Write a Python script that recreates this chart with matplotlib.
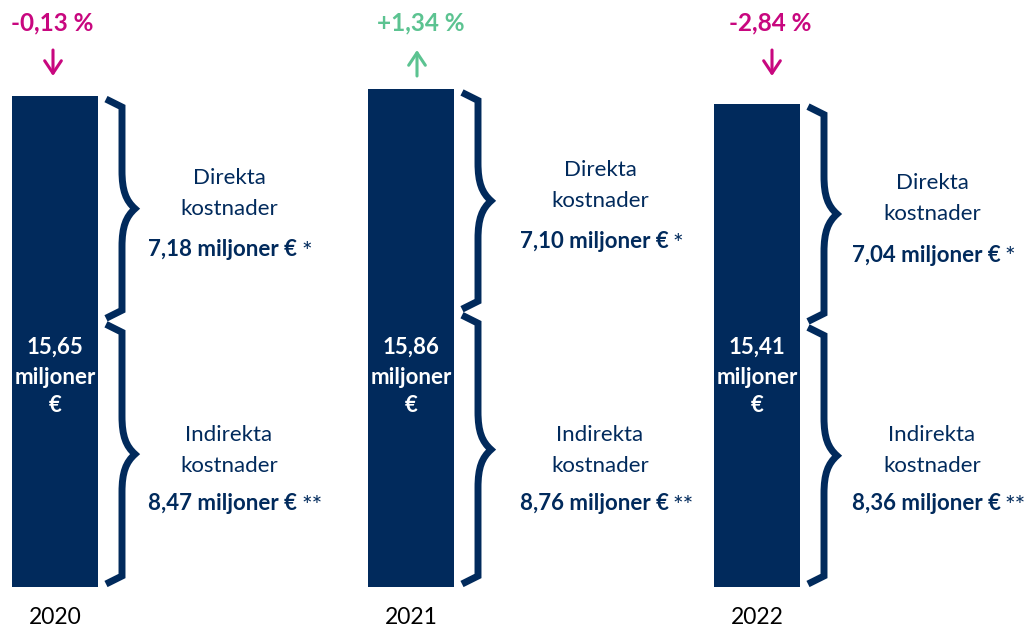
import matplotlib
matplotlib.use("Agg")
import matplotlib.pyplot as plt
from matplotlib.path import Path
from matplotlib.patches import PathPatch

# data (miljoner €)
years = ["2020", "2021", "2022"]
total_cost = [15.65, 15.86, 15.41]
direct_cost = [7.18, 7.10, 7.04]
indirect_cost = [8.47, 8.76, 8.36]
change_pct = [-0.13, 1.34, -2.84]

NAVY = "#012A5C"
MAGENTA = "#C8077F"
GREEN = "#5CC391"

# layout in pixels
bar_x = [55, 411, 757]
bar_w = 86
label_x = [229, 600, 932]
change_x = [52, 421, 770]
arrow_x = [53, 417, 772]
lower_rows = [435, 466, 504]

BASE = 587.0   # pixel row of zero
K = 31.37      # pixels per miljon


def py(p):
    return (BASE - p) / K


def fmt(v):
    return ("%.2f" % v).replace(".", ",")


def brace(ax, x0, y_top, y_bot):
    d = lambda px: px / K
    y_top -= d(3)
    y_bot += d(3)
    ym = (y_top + y_bot) / 2
    verts = [(x0 + 8, y_top), (x0 + 24, y_top - d(8)), (x0 + 24, ym + d(38)),
             (x0 + 24, ym + d(18)), (x0 + 28, ym + d(8)), (x0 + 37, ym),
             (x0 + 28, ym - d(8)), (x0 + 24, ym - d(18)), (x0 + 24, ym - d(38)),
             (x0 + 24, y_bot + d(8)), (x0 + 8, y_bot)]
    codes = [Path.MOVETO, Path.LINETO, Path.LINETO,
             Path.CURVE4, Path.CURVE4, Path.CURVE4,
             Path.CURVE4, Path.CURVE4, Path.CURVE4,
             Path.LINETO, Path.LINETO]
    ax.add_patch(PathPatch(Path(verts, codes), fill=False, ec=NAVY, lw=5,
                           joinstyle="miter", capstyle="butt"))
    return ym


def block(ax, x, rows, title, value, stars):
    ax.text(x, rows[0], title, ha="center", va="center", fontsize=16, color=NAVY)
    ax.text(x, rows[1], "kostnader", ha="center", va="center", fontsize=16, color=NAVY)
    t = ax.text(x - 6, rows[2], fmt(value) + " miljoner €", ha="center", va="center",
                fontsize=16, fontweight="bold", color=NAVY)
    ax.annotate(stars, xy=(1, 1), xycoords=t, xytext=(3, -1),
                textcoords="offset points", ha="left", va="top",
                fontsize=18, color=NAVY)


plt.rcParams["font.family"] = ["Lato", "DejaVu Sans"]
fig = plt.figure(figsize=(10.24, 6.29), dpi=100)
ax = fig.add_axes([0, 0, 1, 1])
ax.set_xlim(0, 1024)
ax.set_ylim(py(629), py(0))
ax.axis("off")

ax.bar(bar_x, total_cost, width=bar_w, color=NAVY)

for i, yr in enumerate(years):
    x0 = bar_x[i] + bar_w / 2
    split = total_cost[i] - direct_cost[i]
    tip1 = brace(ax, x0, total_cost[i], split)
    brace(ax, x0, split, 0)
    up = [tip1 + 31 / K, tip1, tip1 - 41 / K]
    block(ax, label_x[i], up, "Direkta", direct_cost[i], "*")
    block(ax, label_x[i], [py(p) for p in lower_rows], "Indirekta", indirect_cost[i], "**")

    # total inside bar
    for txt, p in zip([fmt(total_cost[i]), "miljoner", "€"], [347, 377, 405]):
        ax.text(bar_x[i], py(p), txt, ha="center", va="center", fontsize=16,
                fontweight="bold", color="white")

    ax.text(bar_x[i], py(617), yr, ha="center", va="center", fontsize=16.5, color="black")

    c = change_pct[i]
    col = GREEN if c > 0 else MAGENTA
    ax.text(change_x[i], py(23), ("%+.2f %%" % c).replace(".", ","), ha="center",
            va="center", fontsize=17.5, fontweight="bold", color=col)
    if c > 0:
        a, b = py(76), py(50)
    else:
        a, b = py(50), py(76)
    ax.annotate("", xy=(arrow_x[i], b), xytext=(arrow_x[i], a),
                arrowprops=dict(arrowstyle="->,head_length=0.9,head_width=0.6",
                                lw=2.2, color=col, shrinkA=0, shrinkB=0))

fig.savefig("out.png", dpi=100)
